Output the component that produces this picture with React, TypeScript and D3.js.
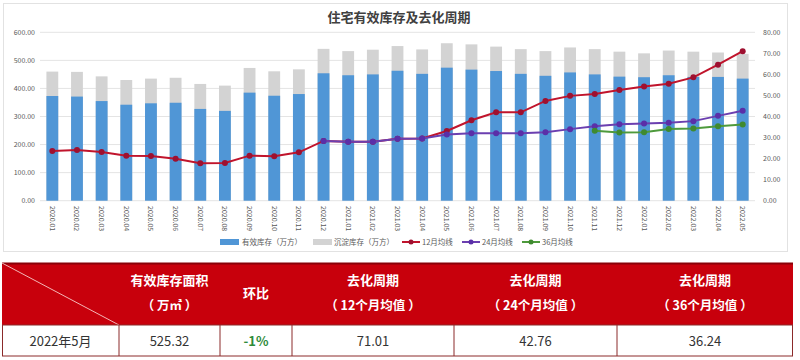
import React from "react";
import * as d3 from "d3";

const months = [
  "2020.01","2020.02","2020.03","2020.04","2020.05","2020.06","2020.07","2020.08","2020.09","2020.10","2020.11","2020.12",
  "2021.01","2021.02","2021.03","2021.04","2021.05","2021.06","2021.07","2021.08","2021.09","2021.10","2021.11","2021.12",
  "2022.01","2022.02","2022.03","2022.04","2022.05",
];
const effective = [373,371,355,342,347,349,327,320,385,374,380,454,447,450,463,452,474,467,462,452,445,457,450,442,440,447,441,441,435];
const totalStock = [460,459,443,430,435,438,416,410,473,461,468,541,533,538,551,539,561,557,549,540,533,546,540,531,525,535,531,528,523];
const ma12: (number | null)[] = [23.6,24.1,23.1,21.4,21.2,19.9,17.8,17.9,21.4,21.1,23.0,28.4,28.0,28.0,29.4,29.6,33.1,38.2,42.0,42.0,47.4,49.8,50.7,52.6,54.3,55.6,58.6,64.6,71.01];
const ma24: (number | null)[] = [null,null,null,null,null,null,null,null,null,null,null,28.4,28.0,28.0,29.4,29.6,31.5,32.0,32.1,32.1,32.5,34.0,35.4,36.3,36.7,37.0,37.8,40.3,42.76];
const ma36: (number | null)[] = [null,null,null,null,null,null,null,null,null,null,null,null,null,null,null,null,null,null,null,null,null,null,33.2,32.4,32.5,34.1,34.3,35.4,36.24];
const leftTicks = [0,100,200,300,400,500,600];
const rightTicks = [0,10,20,30,40,50,60,70,80];

const tableHeader1 = ["有效库存面积", "环比", "去化周期", "去化周期", "去化周期"];
const tableHeader2 = ["（ 万㎡ ）", "", "（ 12个月均值 ）", "（ 24个月均值 ）", "（ 36个月均值 ）"];
const tableRow = ["2022年5月", "525.32", "-1%", "71.01", "42.76", "36.24"];

const FONT = "'Noto Sans CJK SC', 'Noto Sans', sans-serif";
const BLUE = "#5096d6";
const GRAY = "#d3d3d3";
const RED = "#c0142c";
const PURPLE = "#6b3fb0";
const GREEN = "#4e9a3c";

export default function App() {
  const x = d3.scaleBand<string>().domain(months).range([40, 755]).paddingInner(0.52).paddingOuter(0.26);
  const yL = d3.scaleLinear().domain([0, 600]).range([200.7, 32.3]);
  const yR = d3.scaleLinear().domain([0, 80]).range([200.7, 32.3]);
  const cx = (m: string) => (x(m) as number) + x.bandwidth() / 2;

  const lineGen = d3
    .line<number | null>()
    .defined((d) => d !== null)
    .x((_, i) => cx(months[i]))
    .y((d) => yR(d as number));

  const series = [
    { data: ma12, color: RED, mark: "#9e1030" },
    { data: ma24, color: PURPLE, mark: "#5a2fa8" },
    { data: ma36, color: GREEN, mark: "#3f8a30" },
  ];

  const colX = [2, 119, 220, 292, 454, 617, 793];
  const hTop = 263, hBot = 325, rBot = 356;

  return (
    <div style={{ position: "fixed", left: 0, top: 0, width: 800, height: 360, background: "#fff" }}>
      <svg width={800} height={360} style={{ display: "block", fontFamily: FONT }}>
        <rect x={3.5} y={3.5} width={784} height={248} fill="#fff" stroke="#e2e2e2" />
        <text x={399} y={22} textAnchor="middle" fontSize={13} fontWeight="bold" fill="#404040">
          住宅有效库存及去化周期
        </text>
        {leftTicks.map((t) => (
          <g key={"l" + t}>
            <line x1={40} x2={755} y1={yL(t)} y2={yL(t)} stroke="#e4e4e4" strokeWidth={1} />
            <text x={35} y={yL(t) + 2.5} textAnchor="end" fontSize={7} fill="#595959">
              {t.toFixed(2)}
            </text>
          </g>
        ))}
        {rightTicks.map((t) => (
          <text key={"r" + t} x={763} y={yR(t) + 2.5} fontSize={7} fill="#595959">
            {t.toFixed(2)}
          </text>
        ))}
        {months.map((m, i) => (
          <g key={m}>
            <rect x={x(m)} y={yL(totalStock[i])} width={x.bandwidth()} height={yL(0) - yL(totalStock[i])} fill={GRAY} />
            <rect x={x(m)} y={yL(effective[i])} width={x.bandwidth()} height={yL(0) - yL(effective[i])} fill={BLUE} />
            <text
              transform={`translate(${cx(m) - 2.5},${206}) rotate(90)`}
              fontSize={7}
              fill="#595959"
            >
              {m}
            </text>
          </g>
        ))}
        {series.map((s, si) => (
          <g key={"s" + si}>
            <path d={lineGen(s.data) || ""} fill="none" stroke={s.color} strokeWidth={2} />
            {s.data.map((v, i) =>
              v === null ? null : <circle key={i} cx={cx(months[i])} cy={yR(v)} r={3} fill={s.mark} />
            )}
          </g>
        ))}
        {/* legend */}
        <g fontSize={7.5} fill="#595959">
          <rect x={220} y={239} width={19} height={6} fill={BLUE} />
          <text x={242} y={245}>有效库存（万方）</text>
          <rect x={313} y={239} width={19} height={6} fill={GRAY} />
          <text x={334} y={245}>沉淀库存（万方）</text>
          <line x1={402} x2={420} y1={242} y2={242} stroke={RED} strokeWidth={2} />
          <circle cx={411} cy={242} r={2.5} fill="#9e1030" />
          <text x={422} y={245}>12月均线</text>
          <line x1={462} x2={480} y1={242} y2={242} stroke={PURPLE} strokeWidth={2} />
          <circle cx={471} cy={242} r={2.5} fill="#5a2fa8" />
          <text x={482} y={245}>24月均线</text>
          <line x1={522} x2={540} y1={242} y2={242} stroke={GREEN} strokeWidth={2} />
          <circle cx={531} cy={242} r={2.5} fill="#3f8a30" />
          <text x={542} y={245}>36月均线</text>
        </g>
        {/* table */}
        <rect x={colX[0]} y={hTop} width={colX[6] - colX[0]} height={hBot - hTop} fill="#c8000c" />
        <line x1={colX[0]} x2={colX[6]} y1={hTop + 0.5} y2={hTop + 0.5} stroke="#8a0008" strokeWidth={2} />
        <line x1={colX[0]} y1={hTop} x2={colX[1]} y2={hBot} stroke="#f4b6b6" strokeWidth={1} />
        <rect x={colX[0] + 0.5} y={hBot} width={colX[6] - colX[0] - 1} height={rBot - hBot} fill="#fff" stroke="#8b2a2a" />
        {colX.slice(1, 6).map((cxv, i) => (
          <line key={"v" + i} x1={cxv} x2={cxv} y1={hBot} y2={rBot} stroke="#8b2a2a" strokeWidth={1} />
        ))}
        {tableHeader1.map((h, i) => {
          const mid = (colX[i + 1] + colX[i + 2]) / 2;
          return tableHeader2[i] === "" ? (
            <text key={"h" + i} x={mid} y={298} textAnchor="middle" fontSize={13} fontWeight="bold" fill="#fff">
              {h}
            </text>
          ) : (
            <g key={"h" + i}>
              <text x={mid} y={285} textAnchor="middle" fontSize={13} fontWeight="bold" fill="#fff">
                {h}
              </text>
              <text x={mid} y={310} textAnchor="middle" fontSize={12.5} fontWeight="bold" fill="#fff">
                {tableHeader2[i]}
              </text>
            </g>
          );
        })}
        {tableRow.map((v, i) => (
          <text
            key={"c" + i}
            x={(colX[i] + colX[i + 1]) / 2}
            y={346}
            textAnchor="middle"
            fontSize={13}
            fill={i === 2 ? "#2e8b3a" : "#333"}
            fontWeight={i === 2 ? "bold" : "normal"}
          >
            {v}
          </text>
        ))}
      </svg>
    </div>
  );
}
